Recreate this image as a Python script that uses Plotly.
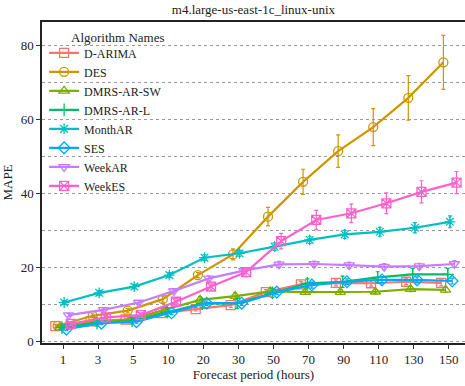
import plotly.graph_objects as go

categories = ["1", "3", "5", "10", "20", "30", "50", "70", "90", "110", "130", "150"]
series_names = ["D-ARIMA", "DES", "DMRS-AR-SW", "DMRS-AR-L", "MonthAR", "SES", "WeekAR", "WeekES"]

d_arima = [4.2, 5.5, 6.0, 7.7, 8.8, 9.9, 13.4, 15.5, 15.9, 15.8, 16.2, 15.9]
des = [4.3, 7.0, 8.4, 11.5, 18.0, 23.6, 33.8, 43.2, 51.5, 58.0, 65.9, 75.5]
dmrs_ar_sw = [3.8, 5.4, 6.0, 8.6, 11.3, 12.3, 13.6, 13.4, 13.4, 13.5, 14.2, 14.0]
dmrs_ar_l = [3.8, 5.0, 5.6, 8.0, 10.3, 10.4, 13.2, 15.8, 16.2, 17.4, 18.2, 18.2]
month_ar = [10.6, 13.2, 14.9, 18.0, 22.7, 23.9, 25.7, 27.5, 29.0, 29.7, 30.8, 32.4]
ses = [3.4, 5.0, 5.4, 7.8, 10.4, 10.4, 13.4, 15.3, 16.2, 16.7, 16.7, 16.4]
week_ar = [7.2, 8.6, 10.6, 13.7, 17.1, 19.2, 20.9, 21.0, 20.7, 20.3, 20.4, 21.0]
week_es = [4.8, 6.6, 7.2, 10.8, 14.9, 18.8, 27.2, 32.9, 34.7, 37.4, 40.5, 43.0]

d_arima_err = [0.4, 0.4, 0.4, 0.5, 0.5, 0.6, 0.7, 0.8, 0.8, 0.8, 0.8, 0.8]
des_err = [0.4, 0.5, 0.6, 0.8, 0.7, 1.5, 2.5, 3.4, 4.4, 5.0, 6.0, 7.3]
dmrs_ar_sw_err = [0.4, 0.4, 0.5, 0.7, 0.9, 0.9, 0.8, 0.6, 0.6, 0.6, 0.7, 0.7]
dmrs_ar_l_err = [0.6, 0.8, 0.8, 1.2, 1.2, 1.4, 1.2, 1.2, 1.5, 1.5, 1.6, 1.6]
month_ar_err = [0.5, 0.6, 0.6, 0.7, 0.8, 0.8, 1.0, 1.0, 1.1, 1.2, 1.4, 1.6]
ses_err = [0.4, 0.4, 0.4, 0.5, 0.6, 0.6, 0.7, 0.8, 0.8, 0.8, 0.8, 0.8]
week_ar_err = [0.4, 0.5, 0.5, 0.6, 0.7, 0.7, 0.8, 0.8, 0.8, 0.8, 0.8, 0.9]
week_es_err = [0.5, 0.5, 0.6, 0.9, 1.0, 1.2, 2.1, 2.6, 2.5, 2.8, 3.0, 3.0]

values = [d_arima, des, dmrs_ar_sw, dmrs_ar_l, month_ar, ses, week_ar, week_es]
errors = [d_arima_err, des_err, dmrs_ar_sw_err, dmrs_ar_l_err, month_ar_err, ses_err, week_ar_err, week_es_err]
colors = ["#F8766D", "#CD9600", "#7CAE00", "#00BE67", "#00BFC4", "#00A9FF", "#C77CFF", "#FF61CC"]
symbols = ["square-open", "circle-open", "triangle-up-open", "cross-thin-open",
           "asterisk-open", "diamond-open", "triangle-down-open", "square-x-open"]

FONT = "Liberation Serif"
fig = go.Figure()
n = len(series_names)
dodge = 0.5 / n
for i, name in enumerate(series_names):
    off = (i - (n - 1) / 2) * dodge
    xs = [k + 1 + off for k in range(len(categories))]
    fig.add_trace(go.Scatter(
        x=xs, y=values[i], name=name, mode="lines+markers",
        line=dict(color=colors[i], width=2.2),
        marker=dict(symbol=symbols[i], size=9, color=colors[i],
                    line=dict(color=colors[i], width=1.3)),
        error_y=dict(type="data", array=errors[i], visible=True,
                     color=colors[i], thickness=1.2, width=2),
    ))

fig.add_annotation(text="Algorithm Names", xref="paper", yref="paper",
                   x=0.064, y=0.953, xanchor="left", yanchor="middle", showarrow=False,
                   font=dict(family=FONT, size=13, color="#222"))

fig.update_layout(
    width=465, height=386,
    margin=dict(l=42, r=0, t=22, b=43),
    paper_bgcolor="white", plot_bgcolor="white",
    font=dict(family=FONT, size=13, color="#222"),
    title=dict(text="m4.large-us-east-1c_linux-unix", x=0.545, xanchor="center",
               y=0.975, yanchor="middle", font=dict(family=FONT, size=13, color="#222")),
    legend=dict(x=0.005, y=0.949, xanchor="left", yanchor="top",
                font=dict(family=FONT, size=12, color="#222"),
                bgcolor="rgba(0,0,0,0)", tracegroupgap=0, itemwidth=30),
    showlegend=True,
)
fig.update_xaxes(
    range=[0.4, 12.46], tickmode="array",
    tickvals=list(range(1, len(categories) + 1)), ticktext=categories,
    showgrid=False, zeroline=False,
    showline=True, linecolor="#222", linewidth=1.5, mirror=True,
    ticks="outside", ticklen=4, tickcolor="#333", tickwidth=1,
    tickfont=dict(family=FONT, size=13, color="#222"),
    title=dict(text="Forecast period (hours)", font=dict(family=FONT, size=13), standoff=0),
)
fig.update_yaxes(
    range=[-0.35, 86.4], tickmode="array", tickvals=[0, 20, 40, 60, 80],
    showgrid=True, gridcolor="#999", griddash="dot", gridwidth=1,
    minor=dict(tickmode="array", tickvals=[10, 30, 50, 70], showgrid=True,
               gridcolor="#999", griddash="dot", gridwidth=1),
    zeroline=False,
    showline=True, linecolor="#222", linewidth=1.5,
    ticks="outside", ticklen=4, tickcolor="#333", tickwidth=1,
    tickfont=dict(family=FONT, size=13, color="#222"),
    title=dict(text="MAPE", font=dict(family=FONT, size=13), standoff=8),
)

fig.write_html("out.html")
